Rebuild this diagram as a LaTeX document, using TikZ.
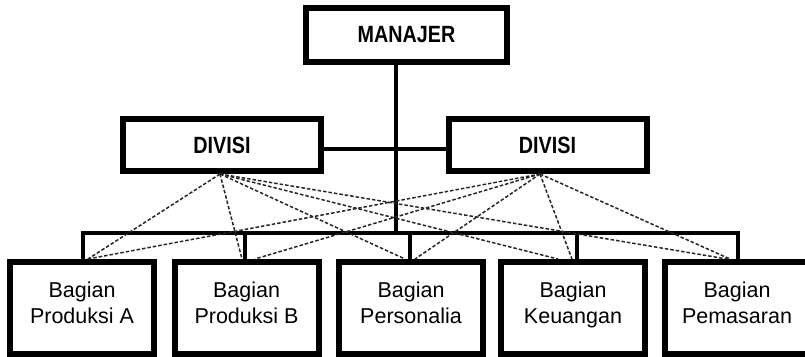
\documentclass[tikz,border=0pt]{standalone}
\usepackage{fontspec}
\setmainfont{Liberation Sans}
\usetikzlibrary{calc}
\begin{document}
\begin{tikzpicture}[x=1pt,y=-1pt,
  headbox/.style={draw, line width=6pt, fill=white, inner sep=0pt,
    font=\fontsize{23.5}{26}\selectfont\bfseries},
  unitbox/.style={draw, line width=6pt, fill=white, inner sep=0pt,
    minimum width=144pt, minimum height=92pt, align=center,
    font=\fontsize{21.5}{26}\selectfont, text depth=11pt},
  link/.style={line width=4.5pt},
  relation/.style={line width=1.5pt, dash pattern=on 3.5pt off 2pt, draw=black!85},
]
\useasboundingbox (0,0) rectangle (805,356);
\clip (0,0) rectangle (805,356);

% top level
\node[headbox, minimum width=201pt, minimum height=54pt] (m) at (406.5,35)
  {\scalebox{0.84}[1]{MANAJER}};

% divisions
\node[headbox, minimum width=198pt, minimum height=52pt] (dl) at (222,145)
  {\scalebox{0.84}[1]{DIVISI}};
\node[headbox, minimum width=198pt, minimum height=52pt] (dr) at (547.5,145)
  {\scalebox{0.84}[1]{DIVISI}};

% departments
\node[unitbox] (b1) at (82,308)    {Bagian\\Produksi A};
\node[unitbox] (b2) at (246.5,308) {Bagian\\Produksi B};
\node[unitbox] (b3) at (411,308)   {Bagian\\Personalia};
\node[unitbox] (b4) at (573,308)   {Bagian\\Keuangan};
\node[unitbox] (b5) at (737,308)   {Bagian\\Pemasaran};

% line of command
\coordinate (bus) at (396,233);
\draw[link] (m.south -| bus) -- (bus);
\draw[link] ([yshift=-4pt]dl.east) -- ([yshift=-4pt]dr.west);
\draw[link] ([xshift=1pt]b1.north) |- (bus) -| ([xshift=1pt]b5.north);
\draw[link] ([xshift=-1.5pt]b2.north) -- ([xshift=-1.5pt]b2.north |- bus);
\draw[link] ([xshift=-1pt]b3.north) -- ([xshift=-1pt]b3.north |- bus);
\draw[link] ([xshift=4pt]b4.north) -- ([xshift=4pt]b4.north |- bus);

% functional relations
\coordinate (ol) at ([xshift=-2pt]dl.south);
\coordinate (or) at ([xshift=-7.5pt]dr.south);
\draw[relation] (ol) -- ([xshift=6pt]b1.north);
\draw[relation] (ol) -- ([xshift=-4.5pt]b2.north);
\draw[relation] (ol) -- ([xshift=-6pt]b3.north);
\draw[relation] (ol) -- ([xshift=-15pt]b4.north);
\draw[relation] (ol) -- ([xshift=-10pt]b5.north);
\draw[relation] (or) -- ([xshift=6pt]b1.north);
\draw[relation] (or) -- ([xshift=8.5pt]b2.north);
\draw[relation] (or) -- ([xshift=4pt]b3.north);
\draw[relation] (or) -- ([xshift=-1pt]b4.north);
\draw[relation] (or) -- ([xshift=-7pt]b5.north);
\end{tikzpicture}
\end{document}
